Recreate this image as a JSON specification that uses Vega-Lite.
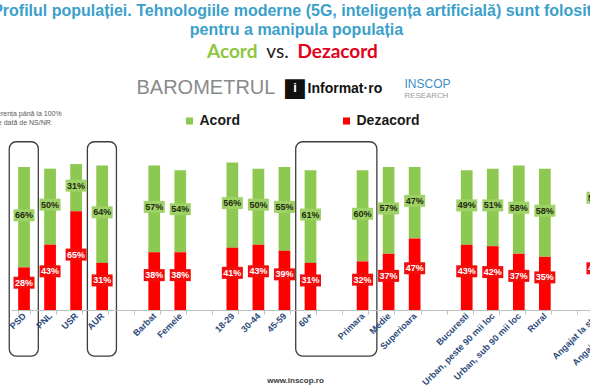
{
  "$schema": "https://vega.github.io/schema/vega-lite/v6.json",
  "width": 579,
  "height": 152,
  "autosize": {"type": "none"},
  "padding": {"left": 11, "top": 158, "right": 0, "bottom": 79},
  "background": "white",
  "title": {
    "text": ["Profilul populației. Tehnologiile moderne (5G, inteligența artificială) sunt folosite", "pentru a manipula populația"],
    "font": "Liberation Sans",
    "fontSize": 16,
    "fontWeight": "bold",
    "color": "#3BA0CA",
    "anchor": "middle",
    "frame": "group",
    "dx": -4,
    "offset": 4,
    "lineHeight": 19
  },
  "config": {"view": {"stroke": null}, "axis": {"grid": false}},
  "layer": [
    {
      "data": {
        "values": [
          {"cat": "PSD", "resp": "Acord", "val": 0.66}, {"cat": "PSD", "resp": "Dezacord", "val": 0.28},
          {"cat": "PNL", "resp": "Acord", "val": 0.50}, {"cat": "PNL", "resp": "Dezacord", "val": 0.43},
          {"cat": "USR", "resp": "Acord", "val": 0.31}, {"cat": "USR", "resp": "Dezacord", "val": 0.65},
          {"cat": "AUR", "resp": "Acord", "val": 0.64}, {"cat": "AUR", "resp": "Dezacord", "val": 0.31},
          {"cat": "Barbat", "resp": "Acord", "val": 0.57}, {"cat": "Barbat", "resp": "Dezacord", "val": 0.38},
          {"cat": "Femeie", "resp": "Acord", "val": 0.54}, {"cat": "Femeie", "resp": "Dezacord", "val": 0.38},
          {"cat": "18-29", "resp": "Acord", "val": 0.56}, {"cat": "18-29", "resp": "Dezacord", "val": 0.41},
          {"cat": "30-44", "resp": "Acord", "val": 0.50}, {"cat": "30-44", "resp": "Dezacord", "val": 0.43},
          {"cat": "45-59", "resp": "Acord", "val": 0.55}, {"cat": "45-59", "resp": "Dezacord", "val": 0.39},
          {"cat": "60+", "resp": "Acord", "val": 0.61}, {"cat": "60+", "resp": "Dezacord", "val": 0.31},
          {"cat": "Primara", "resp": "Acord", "val": 0.60}, {"cat": "Primara", "resp": "Dezacord", "val": 0.32},
          {"cat": "Medie", "resp": "Acord", "val": 0.57}, {"cat": "Medie", "resp": "Dezacord", "val": 0.37},
          {"cat": "Superioara", "resp": "Acord", "val": 0.47}, {"cat": "Superioara", "resp": "Dezacord", "val": 0.47},
          {"cat": "Bucuresti", "resp": "Acord", "val": 0.49}, {"cat": "Bucuresti", "resp": "Dezacord", "val": 0.43},
          {"cat": "Urban, peste 90 mii loc", "resp": "Acord", "val": 0.51}, {"cat": "Urban, peste 90 mii loc", "resp": "Dezacord", "val": 0.42},
          {"cat": "Urban, sub 90 mii loc", "resp": "Acord", "val": 0.58}, {"cat": "Urban, sub 90 mii loc", "resp": "Dezacord", "val": 0.37},
          {"cat": "Rural", "resp": "Acord", "val": 0.58}, {"cat": "Rural", "resp": "Dezacord", "val": 0.35},
          {"cat": "Angajat la stat", "resp": "Acord", "val": 0.51}, {"cat": "Angajat la stat", "resp": "Dezacord", "val": 0.47}
        ]
      },
      "layer": [
        {
          "data": {"values": [{"from": "PSD", "to": "PSD"}, {"from": "AUR", "to": "AUR"}, {"from": "60+", "to": "Primara"}]},
          "mark": {"type": "rect", "cornerRadius": 7, "filled": false, "stroke": "#3d3d3d", "strokeWidth": 1.3},
          "encoding": {
            "x": {"field": "from", "type": "nominal", "bandPosition": -0.76, "title": "www.inscop.ro",
              "scale": {"type": "band", "domain": ["PSD", "PNL", "USR", "AUR", " ", "Barbat", "Femeie", "  ", "18-29", "30-44", "45-59", "60+", "   ", "Primara", "Medie", "Superioara", "    ", "Bucuresti", "Urban, peste 90 mii loc", "Urban, sub 90 mii loc", "Rural", "     ", "Angajat la stat", "Angajat la privat"], "range": [0, 625], "paddingInner": 0.55, "paddingOuter": 0.275}},
            "x2": {"field": "to", "bandPosition": 1.72},
            "y": {"datum": 1.107, "type": "quantitative", "scale": {"domain": [0, 1]}},
            "y2": {"datum": -0.303}
          }
        },
        {
          "mark": {"type": "bar"},
          "encoding": {
            "x": {"field": "cat", "type": "nominal", "title": "www.inscop.ro",
              "scale": {"type": "band", "domain": ["PSD", "PNL", "USR", "AUR", " ", "Barbat", "Femeie", "  ", "18-29", "30-44", "45-59", "60+", "   ", "Primara", "Medie", "Superioara", "    ", "Bucuresti", "Urban, peste 90 mii loc", "Urban, sub 90 mii loc", "Rural", "     ", "Angajat la stat", "Angajat la privat"], "range": [0, 625], "paddingInner": 0.55, "paddingOuter": 0.275},
              "axis": {
                "title": "www.inscop.ro", "titleFont": "Liberation Sans", "titleFontSize": 8, "titleFontWeight": "bold", "titleColor": "#3a3a3a",
                "titleX": 284, "titleY": 70, "titleAlign": "center", "titleBaseline": "middle", "titleAngle": 0,
                "labelAngle": -45, "labelAlign": "right", "labelBaseline": "middle", "labelFont": "Liberation Sans", "labelFontSize": 9, "labelFontWeight": "bold", "labelColor": "#2B4A7A",
                "labelPadding": 0, "labelOverlap": false, "labelLimit": 0,
                "tickBand": "extent", "tickSize": 4, "tickColor": "#C0C0C0", "domainColor": "#C0C0C0", "domainWidth": 1
              }},
            "y": {"field": "val", "type": "quantitative", "stack": "zero", "scale": {"domain": [0, 1]},
              "title": ["Diferența până la 100%", "este dată de NS/NR"],
              "axis": {
                "domain": false, "ticks": false, "labels": false, "grid": false,
                "title": ["Diferența până la 100%", "este dată de NS/NR"],
                "titleAngle": 0, "titleAlign": "left", "titleBaseline": "top", "titleX": -23, "titleY": -49,
                "titleFont": "Liberation Sans", "titleFontSize": 7, "titleFontWeight": "normal", "titleColor": "#595959", "titleLineHeight": 9
              }},
            "color": {"field": "resp", "type": "nominal",
              "scale": {"domain": ["Acord", "Dezacord"], "range": ["#8DC850", "#FF0000"]},
              "legend": {"orient": "none", "legendX": 171.5, "legendY": -44, "direction": "horizontal", "title": null,
                "labelFont": "Liberation Sans", "labelFontSize": 14, "labelFontWeight": "bold", "labelColor": "#1a1a1a",
                "symbolType": "square", "symbolSize": 50, "symbolStrokeWidth": 0, "symbolOpacity": 1, "labelOffset": 3, "columnPadding": 99, "padding": 0}},
            "order": {"field": "resp", "sort": "descending"}
          }
        },
        {
          "mark": {"type": "point", "shape": "M-1.75,-1H1.75V1H-1.75Z", "size": 144, "filled": true, "opacity": 1, "strokeWidth": 0,
            "yOffset": {"expr": "datum.resp === 'Dezacord' ? -6 : -2"}},
          "encoding": {
            "x": {"field": "cat", "type": "nominal", "title": "www.inscop.ro",
              "scale": {"type": "band", "domain": ["PSD", "PNL", "USR", "AUR", " ", "Barbat", "Femeie", "  ", "18-29", "30-44", "45-59", "60+", "   ", "Primara", "Medie", "Superioara", "    ", "Bucuresti", "Urban, peste 90 mii loc", "Urban, sub 90 mii loc", "Rural", "     ", "Angajat la stat", "Angajat la privat"], "range": [0, 625], "paddingInner": 0.55, "paddingOuter": 0.275}},
            "y": {"field": "val", "type": "quantitative", "stack": "zero", "bandPosition": 0.5, "scale": {"domain": [0, 1]}, "title": ["Diferența până la 100%", "este dată de NS/NR"]},
            "fill": {"field": "resp", "type": "nominal", "scale": {"domain": ["Acord", "Dezacord"], "range": ["#9FD266", "#F20D0D"]}, "legend": null},
            "order": {"field": "resp", "sort": "descending"}
          }
        },
        {
          "mark": {"type": "text", "font": "Liberation Sans", "fontSize": 9, "fontWeight": "bold",
            "dy": {"expr": "datum.resp === 'Dezacord' ? -6 : -2"}},
          "encoding": {
            "x": {"field": "cat", "type": "nominal", "title": "www.inscop.ro",
              "scale": {"type": "band", "domain": ["PSD", "PNL", "USR", "AUR", " ", "Barbat", "Femeie", "  ", "18-29", "30-44", "45-59", "60+", "   ", "Primara", "Medie", "Superioara", "    ", "Bucuresti", "Urban, peste 90 mii loc", "Urban, sub 90 mii loc", "Rural", "     ", "Angajat la stat", "Angajat la privat"], "range": [0, 625], "paddingInner": 0.55, "paddingOuter": 0.275}},
            "y": {"field": "val", "type": "quantitative", "stack": "zero", "bandPosition": 0.5, "scale": {"domain": [0, 1]}, "title": ["Diferența până la 100%", "este dată de NS/NR"]},
            "text": {"field": "val", "type": "quantitative", "format": ".0%"},
            "color": {"condition": {"test": "datum.resp === 'Dezacord'", "value": "#ffffff"}, "value": "#1F2A12"},
            "order": {"field": "resp", "sort": "descending"}
          }
        }
      ]
    },
    {
      "data": {"values": [{"w": "BAROMETRUL"}, {"w": "■"}, {"w": "i"}, {"w": "Informat·ro"}, {"w": "INSCOP"}, {"w": "RESEARCH"}, {"w": "Acord"}, {"w": "vs."}, {"w": "Dezacord"}]},
      "mark": {"type": "text", "text": ""},
      "encoding": {
        "x": {"field": "w", "type": "nominal",
          "scale": {"type": "point", "domain": ["BAROMETRUL", "■", "i", "Informat·ro", "INSCOP", "RESEARCH", "Acord", "vs.", "Dezacord"], "padding": 0},
          "axis": {
            "orient": "top", "title": null, "domain": false, "ticks": false, "tickSize": 0, "labelAngle": 0, "labelBaseline": "middle",
            "labelOverlap": false, "labelBound": false, "labelFlush": false, "labelLimit": 0,
            "labelAlign": {"expr": "['left','center','center','left','left','left','right','center','left'][indexof(['BAROMETRUL','■','i','Informat·ro','INSCOP','RESEARCH','Acord','vs.','Dezacord'], datum.value)]"},
            "labelOffset": {"expr": "[125,211.1,138.75,78.9,103.5,31.1,-188.25,-240.6,-293][indexof(['BAROMETRUL','■','i','Informat·ro','INSCOP','RESEARCH','Acord','vs.','Dezacord'], datum.value)]"},
            "labelPadding": {"expr": "[71,71,71,70,75,63,107,107,107][indexof(['BAROMETRUL','■','i','Informat·ro','INSCOP','RESEARCH','Acord','vs.','Dezacord'], datum.value)]"},
            "labelFont": {"expr": "['Liberation Sans','DejaVu Sans','Liberation Sans','Liberation Sans','Liberation Sans','Liberation Sans','Lato','Lato','Lato'][indexof(['BAROMETRUL','■','i','Informat·ro','INSCOP','RESEARCH','Acord','vs.','Dezacord'], datum.value)]"},
            "labelFontSize": {"expr": "[20,26,13,14,12,7.9,19,19,19][indexof(['BAROMETRUL','■','i','Informat·ro','INSCOP','RESEARCH','Acord','vs.','Dezacord'], datum.value)]"},
            "labelFontWeight": {"expr": "['normal','normal','bold','bold','normal','normal','bold','normal','bold'][indexof(['BAROMETRUL','■','i','Informat·ro','INSCOP','RESEARCH','Acord','vs.','Dezacord'], datum.value)]"},
            "labelColor": {"expr": "['#8a8a8a','#111111','#ffffff','#111111','#3C8DC5','#9a9a9a','#8DC63F','#222222','#E3001B'][indexof(['BAROMETRUL','■','i','Informat·ro','INSCOP','RESEARCH','Acord','vs.','Dezacord'], datum.value)]"}
          }}
      }
    }
  ],
  "resolve": {"scale": {"x": "independent"}, "axis": {"x": "independent"}}
}
